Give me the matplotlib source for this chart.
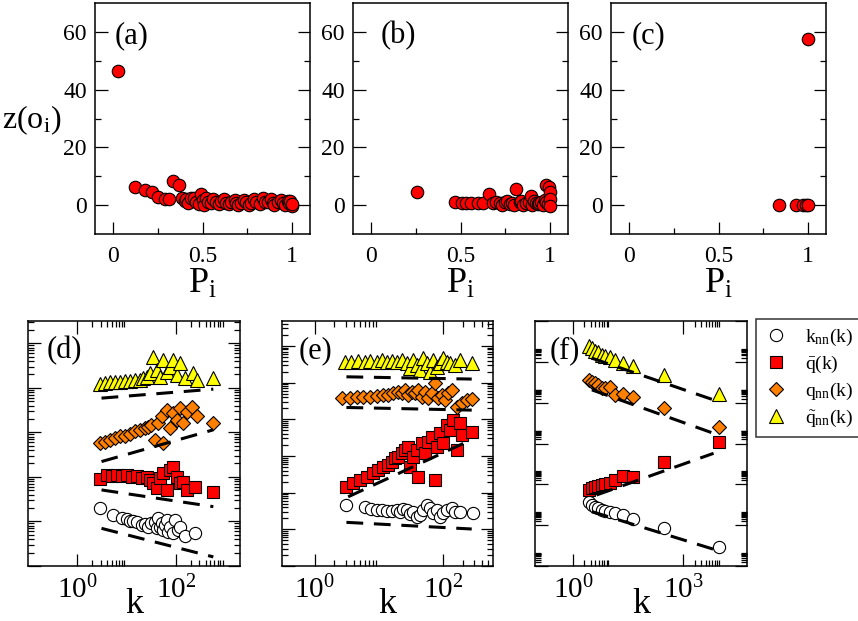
import matplotlib
matplotlib.use('Agg')
import matplotlib.pyplot as plt
from matplotlib.ticker import FixedLocator, NullFormatter, FixedFormatter

plt.rcParams['font.family'] = 'Liberation Serif'
plt.rcParams['mathtext.fontset'] = 'custom'
plt.rcParams['mathtext.rm'] = 'Liberation Serif'
plt.rcParams['mathtext.it'] = 'Liberation Serif:italic'

# ---- top row: z(o_i) vs P_i ----
pa = [0.028, 0.121, 0.177, 0.219, 0.251, 0.288, 0.312, 0.334, 0.368, 0.387, 0.40, 0.409, 0.42,
      0.437, 0.45, 0.465, 0.48, 0.493, 0.50, 0.51, 0.521, 0.53, 0.548, 0.56, 0.576, 0.59, 0.604,
      0.62, 0.632, 0.65, 0.66, 0.68, 0.688, 0.70, 0.716, 0.73, 0.744, 0.76, 0.771, 0.79, 0.799,
      0.82, 0.836, 0.85, 0.864, 0.88, 0.892, 0.90, 0.92, 0.94, 0.948, 0.96, 0.975, 0.98, 0.99, 1.0, 1.0]
za = [46.4, 6.2, 5.4, 4.5, 2.9, 2.0, 2.0, 8.5, 7.1, 2.3, 1.5, 2.0, 0.8,
      2.3, 2.6, 1.2, 0.5, 3.7, 1.8, 0.2, 2.5, 1.0, 0.9, 2.0, 1.2, 0.3, 1.5,
      2.1, 0.9, 0.4, 1.2, 1.9, 0.6, 0.2, 0.9, 1.8, 1.2, 0.1, 0.6, 2.1, 1.2,
      0.3, 2.5, 1.0, 1.2, 2.2, 0.9, 0.2, 1.2, 1.9, 0.6, 0.1, 1.5, 0.8, 1.3, -0.3, 0.5]

pb = [0.256, 0.468, 0.506, 0.533, 0.56, 0.596, 0.626, 0.659, 0.681, 0.70, 0.718, 0.73, 0.746,
      0.76, 0.774, 0.79, 0.80, 0.811, 0.83, 0.84, 0.85, 0.866, 0.88, 0.893, 0.90, 0.91, 0.92,
      0.93, 0.94, 0.95, 0.96, 0.97, 0.978, 0.978, 0.99, 0.996, 1.0, 1.0, 1.0]
zb = [4.6, 1.0, 0.8, 0.8, 0.8, 0.8, 0.6, 3.7, 0.6, 1.0, 0.6, 0.2, 1.2,
      1.5, 0.3, 0.8, 0.1, 5.6, 1.2, 1.6, 0.2, 0.8, 1.0, 3.1, 0.1, 1.5, 0.6,
      0.4, 0.9, 1.2, 0.2, 1.8, 6.8, 1.2, 0.5, 6.4, 4.4, 2.1, -0.3]

pc = [0.838, 0.931, 0.969, 0.987, 1.0, 1.0]
zc = [0.0, 0.0, 0.0, 0.0, 0.0, 57.7]

# ---- bottom row (d) ----
kd_knn = [2.9, 5.4, 7.9, 10, 11.7, 13.7, 16, 20.2, 23.6, 27.6, 32, 37.7, 40.8, 44, 47.6, 51.6,
          55.5, 60, 65, 70, 76, 89, 96, 112, 121, 152, 244]
yd_knn = [19.9, 14, 11.8, 11.2, 10.4, 10.2, 9.7, 8.3, 8.8, 7.6, 9.1, 9.9, 7.0, 11.8, 7.6, 9.1,
          6.4, 8.3, 10.8, 5.9, 7.6, 5.4, 10.8, 6.4, 7.6, 4.6, 5.6]
kd_q = [2.9, 3.95, 5.0, 6.3, 7.9, 10, 12.7, 16, 20.2, 25.6, 29.8, 34.8, 40.8, 47.6, 55.5, 65,
        76, 89, 104, 121, 141, 166, 244, 575]
yd_q = [89, 111, 106, 111, 106, 111, 102, 105, 93, 102, 86, 72, 56, 93, 121, 51,
        144, 170, 102, 72, 78.5, 51, 60, 47]
kd_qnn = [2.9, 3.65, 4.6, 5.8, 7.3, 9.3, 11.7, 14.8, 18.7, 23.6, 27.6, 32, 37.7, 44, 51.6, 55.5,
          65, 76, 89, 104, 121, 141, 166, 209, 264, 575]
yd_qnn = [571, 620, 676, 740, 810, 837, 925, 1050, 1140, 1240, 1350, 1470, 676, 1600, 2280, 571,
          3200, 1240, 2700, 1900, 3480, 1600, 2940, 3800, 2280, 1600]
kd_qt = [2.9, 3.65, 4.6, 5.8, 7.3, 9.3, 11.7, 14.8, 18.7, 21.8, 25.6, 29.8, 34.8, 40.8, 47.6,
         55.5, 65, 76, 89, 104, 121, 152, 226, 264, 575]
yd_qt = [12300, 12700, 13200, 13200, 13400, 13900, 13900, 14600, 15100, 16500, 17900, 21300,
         50400, 25300, 17900, 42600, 23200, 30000, 42600, 19600, 35800, 16500, 21300, 15100, 16500]
kd_fit = [3.1, 575]
yd_fit = [[7.0, 1.6], [51, 21.5], [221, 1140], [5870, 9330]]

# ---- bottom row (e) ----
ke_knn = [3.0, 6.0, 7.6, 9.1, 10.9, 13.1, 15.6, 18.7, 21, 23.7, 26.8, 30, 34, 38.3, 43, 48.8,
          55, 62, 69.5, 79, 89, 99.6, 112, 134, 151, 181, 293]
ye_knn = [46, 40, 35.7, 34, 34, 31.5, 31.5, 34, 30.3, 35.7, 34, 26, 30.3, 22, 24.6, 34,
          46, 37.3, 27.2, 34, 22, 27.2, 34, 37.3, 30.3, 29, 28]
ke_q = [3.0, 3.95, 5.0, 6.4, 8.1, 9.7, 11.6, 13.9, 15.6, 17.6, 19.9, 22.3, 25.2, 28.3, 30, 34,
        38.3, 40.6, 45.8, 51.5, 58, 65.6, 74, 79, 89, 99.6, 112, 126, 142, 161, 181, 193, 275]
ye_q = [145, 179, 220, 270, 336, 413, 509, 566, 697, 858, 950, 1170, 1440, 1780, 509, 950,
        1440, 270, 2200, 1170, 2430, 3330, 220, 1780, 4120, 2200, 6960, 5090, 9500, 1440, 7700, 3700, 4560]
ke_qnn = [2.6, 3.5, 4.5, 5.6, 7.2, 9.1, 11.6, 13.9, 16.6, 19.9, 22.3, 25.2, 28.3, 32, 36, 40.6,
          45.8, 51.5, 58, 65.6, 74, 83, 94, 106, 119, 134, 161, 193, 230, 275]
ye_qnn = [37000, 37000, 39600, 39600, 41000, 43000, 45700, 45700, 50700, 56000, 50700, 62800,
          45700, 56000, 50700, 62800, 41000, 56000, 37000, 50700, 99000, 37000, 45700, 33400,
          50700, 62800, 22000, 27000, 33400, 35000]
ke_qt = [2.9, 3.7, 4.7, 6.0, 7.2, 9.1, 10.9, 13.1, 15.6, 18.7, 22.3, 26.8, 30, 34, 38.3, 43,
         48.8, 55, 62, 69.5, 79, 89, 99.6, 112, 126, 151, 181, 275]
ye_qt = [3.7e5, 3.7e5, 3.86e5, 3.7e5, 3.86e5, 3.7e5, 4.1e5, 3.7e5, 3.98e5, 3.7e5, 4.1e5, 3.33e5,
         2.44e5, 4.1e5, 3.0e5, 2.18e5, 4.56e5, 3.33e5, 1.97e5, 4.1e5, 2.7e5, 3.33e5, 4.56e5,
         3.7e5, 3.33e5, 3.0e5, 4.1e5, 3.33e5]
ke_fit = [[3.1, 275], [3.3, 204], [3.1, 275], [3.1, 275]]
ye_fit = [[15.5, 10.2], [77, 2200], [21000, 17800], [1.44e5, 1.25e5]]

# ---- bottom row (f) ----
kf = [2.6, 3.2, 3.9, 4.8, 5.9, 7.3, 10, 13.7, 23, 43, 297, 9550]
yf_knn = [5.4e4, 3.05e4, 2.3e4, 1.74e4, 1.3e4, 1.1e4, 9.9e3, 8.3e3, 5.6e3, 2.7e3, 590, 23.5]
yf_q = [3.9e5, 5.1e5, 6.8e5, 8.1e5, 9.1e5, 1.07e6, 1.35e6, 2.1e6, 4.4e6, 3.7e6, 4.2e7, 1.2e9]
yf_qnn = [4.8e13, 3.5e13, 2.7e13, 2.0e13, 1.16e13, 1.16e13, 1.5e13, 3.7e12, 4.4e12, 2.8e12, 4.4e11, 1.7e10]
yf_qt = [1.5e16, 1.0e16, 6.8e15, 4.9e15, 3.3e15, 2.8e15, 2.2e15, 1.4e15, 8.9e14, 5.1e14, 1.1e14, 4.4e12]
kf_fit = [[3.2, 6600], [4.3, 6600], [3.2, 6600], [3.2, 6600]]
yf_fit = [[9.9e3, 17], [1.66e5, 1.9e8], [8.7e12, 5.6e9], [1.86e15, 1.6e12]]

series_names = [r'$\mathrm{k_{nn}(k)}$', r'$\mathrm{\bar{q}(k)}$',
                r'$\mathrm{q_{nn}(k)}$', r'$\mathrm{\tilde{q}_{nn}(k)}$']
series_style = [('o', 'white', 8.8), ('s', 'red', 8.6), ('D', '#ff8000', 7.4), ('^', 'yellow', 9.8)]

W, H = 858, 621
fig = plt.figure(figsize=(W / 100, H / 100), dpi=100)


def box(l, t, r, b):
    return [l / W, 1 - b / H, (r - l) / W, (b - t) / H]


def style_spines(ax):
    for s in ax.spines.values():
        s.set_linewidth(1.1)


# top row
tops = [(95, 310, pa, za, '(a)', 0.09), (353, 568, pb, zb, '(b)', 0.13), (611, 826, pc, zc, '(c)', 0.095)]
for l, r, p, z, lab, lx in tops:
    ax = fig.add_axes(box(l, 3, r, 234))
    ax.plot(p, z, 'o', ms=9, mfc='red', mec='black', mew=0.8, ls='none')
    ax.set_xlim(-0.1, 1.1)
    ax.set_ylim(-10, 70)
    ax.set_xticks([0, 0.5, 1])
    ax.set_xticklabels(['0', '0.5', '1'])
    ax.set_xticks([0.25, 0.75], minor=True)
    ax.set_yticks([0, 20, 40, 60])
    ax.set_yticks([10, 30, 50], minor=True)
    ax.tick_params(which='both', direction='in', left=True, right=True, top=False,
                   labelsize=17, width=0.9)
    ax.tick_params(axis='x', pad=9)
    ax.tick_params(axis='y', pad=6)
    ax.tick_params(which='major', length=9)
    ax.tick_params(which='minor', length=4.5)
    ax.set_xlabel(r'$\mathrm{P_i}$', fontsize=26, labelpad=0)
    ax.text(lx, 0.86, lab, transform=ax.transAxes, fontsize=22, ha='left', va='center')
    style_spines(ax)

fig.text(2 / W, 1 - 120 / H, r'$\mathrm{z(o_i)}$', fontsize=23, ha='left', va='center')

# bottom row
dash = (5.5, 3.5)


def bottom_panel(l, r, xlim, ylim, data, fits, lab, xmaj, xlabs, xmin, ymaj, ymin, lx):
    ax = fig.add_axes(box(l, 321, r, 566))
    ax.set_xscale('log')
    ax.set_yscale('log')
    for (mk, col, ms), (kk, yy) in zip(series_style, data):
        ax.plot(kk, yy, mk, ms=ms, mfc=col, mec='black', mew=0.8, ls='none')
    for kk, yy in fits:
        ax.plot(kk, yy, color='black', lw=2.2, dashes=dash)
    ax.set_xlim(*xlim)
    ax.set_ylim(*ylim)
    ax.xaxis.set_major_locator(FixedLocator(xmaj))
    ax.xaxis.set_major_formatter(FixedFormatter(xlabs))
    ax.xaxis.set_minor_locator(FixedLocator(xmin))
    ax.xaxis.set_minor_formatter(NullFormatter())
    ax.yaxis.set_major_locator(FixedLocator(ymaj))
    ax.yaxis.set_minor_locator(FixedLocator(ymin))
    ax.yaxis.set_major_formatter(NullFormatter())
    ax.yaxis.set_minor_formatter(NullFormatter())
    ax.tick_params(which='both', direction='in', left=True, right=True, top=True, bottom=True,
                   labelsize=21, pad=7, width=0.9)
    ax.tick_params(which='major', length=9)
    ax.tick_params(which='minor', length=4.5)
    ax.text(0.5, -0.19, 'k', transform=ax.transAxes, fontsize=26, ha='center', va='baseline')
    ax.text(lx, 0.88, lab, transform=ax.transAxes, fontsize=22, ha='left', va='center')
    style_spines(ax)
    return ax


subs = [2, 3, 4, 5, 6, 7, 8, 9]
dec_minor = [s * 10.0 ** e for e in range(0, 6) for s in subs]

bottom_panel(28, 240, (0.1, 2000), (1, 10 ** 5.5),
             [(kd_knn, yd_knn), (kd_q, yd_q), (kd_qnn, yd_qnn), (kd_qt, yd_qt)],
             [(kd_fit, yy) for yy in yd_fit], '(d)',
             [1, 100], [r'$\mathrm{10^0}$', r'$\mathrm{10^2}$'],
             [s for s in subs] + [s * 100 for s in subs],
             [10.0 ** e for e in range(0, 6)], dec_minor, 0.09)

bottom_panel(282, 493, (10 ** -0.51, 10 ** 2.77), (1, 10 ** 6.68),
             [(ke_knn, ye_knn), (ke_q, ye_q), (ke_qnn, ye_qnn), (ke_qt, ye_qt)],
             list(zip(ke_fit, ye_fit)), '(e)',
             [1, 100], [r'$\mathrm{10^0}$', r'$\mathrm{10^2}$'],
             [s for s in subs] + [s * 100 for s in subs],
             [10.0 ** e for e in range(0, 7)], [s * 10.0 ** e for e in range(0, 7) for s in subs], 0.08)

axf = bottom_panel(535, 747, (10 ** -1.045, 10 ** 4.73), (1, 1e18),
                   [(kf, yf_knn), (kf, yf_q), (kf, yf_qnn), (kf, yf_qt)],
                   list(zip(kf_fit, yf_fit)), '(f)',
                   [1, 1000], [r'$\mathrm{10^0}$', r'$\mathrm{10^3}$'],
                   [s for s in subs] + [s * 1000 for s in subs],
                   [10.0 ** e for e in range(0, 19, 3)],
                   [s * 10.0 ** e for e in range(0, 19, 3) for s in subs], 0.07)

handles = []
for mk, col, ms in series_style:
    h, = axf.plot([], [], mk, ms=ms, mfc=col, mec='black', mew=0.8, ls='none')
    handles.append(h)
leg = fig.legend(handles, series_names, loc='upper left', bbox_to_anchor=(756 / W, 1 - 319 / H),
                 fontsize=14, frameon=True, fancybox=False, edgecolor='black',
                 borderpad=0.4, labelspacing=0.3, handletextpad=0.8, handlelength=1.3,
                 borderaxespad=0)
leg.get_frame().set_linewidth(1.1)

fig.savefig('out.png', dpi=100)
